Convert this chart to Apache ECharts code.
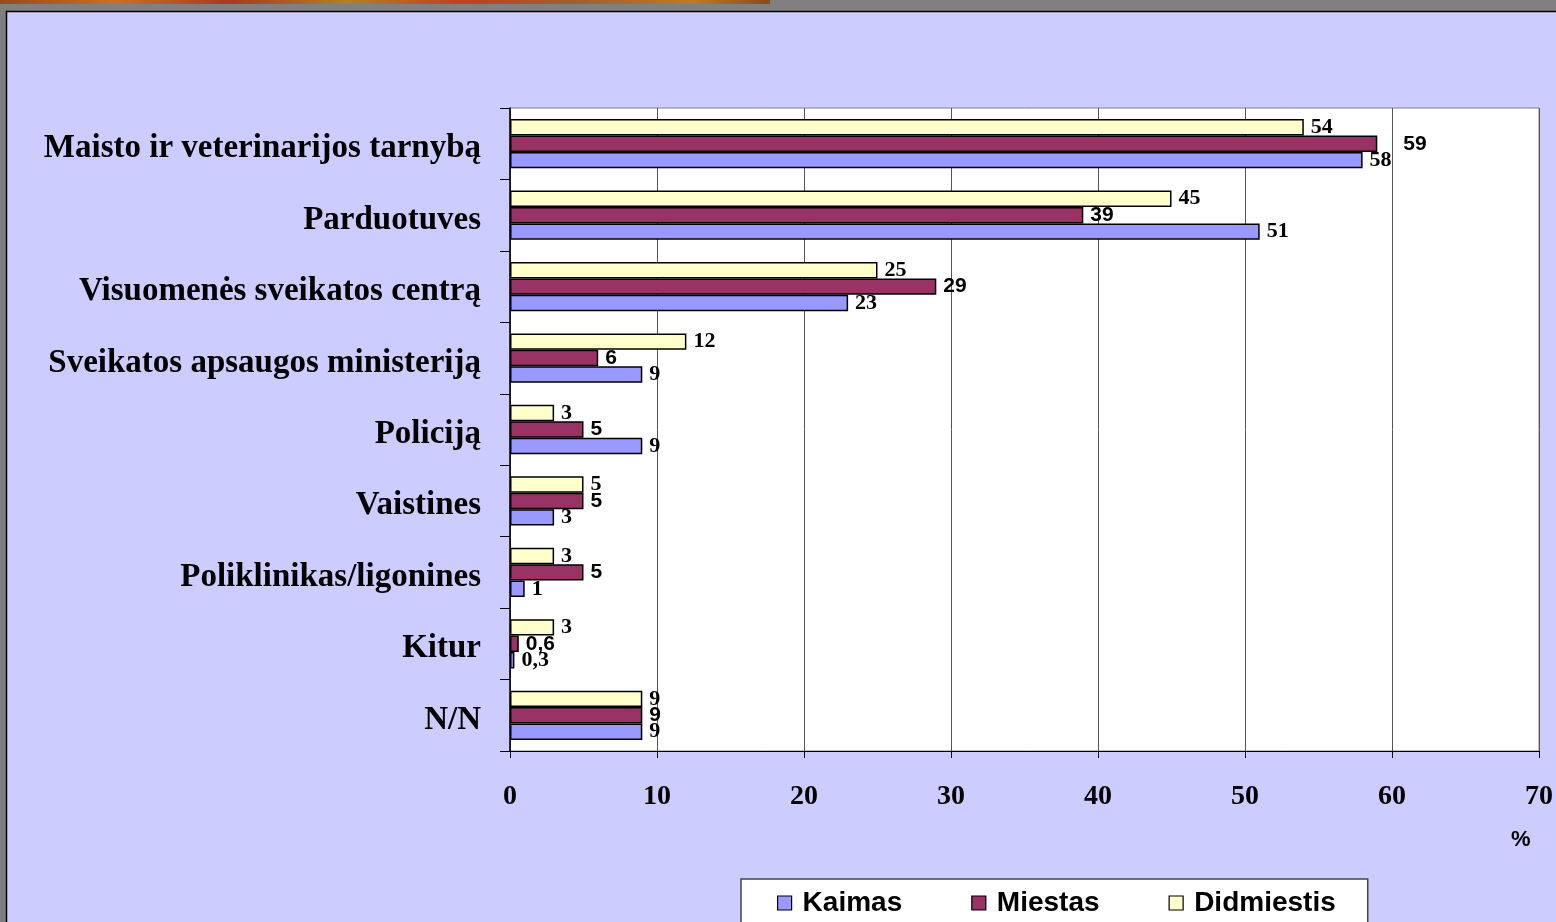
<!DOCTYPE html>
<html><head><meta charset="utf-8">
<script src="https://cdn.jsdelivr.net/npm/echarts@6/dist/echarts.min.js"></script>
<style>html,body{margin:0;padding:0;background:#808080}#c{width:1556px;height:922px}</style>
</head><body><div id="c"></div>
<script>
const categories = ['Maisto ir veterinarijos tarnybą','Parduotuves','Visuomenės sveikatos centrą','Sveikatos apsaugos ministeriją','Policiją','Vaistines','Poliklinikas/ligonines','Kitur','N/N'];
const kaimas = [58, 51, 23, 9, 9, 3, 1, 0.3, 9];
const miestas = [59, 39, 29, 6, 5, 5, 5, 0.6, 9];
const didmiestis = [54, 45, 25, 12, 3, 5, 3, 3, 9];
const seriesNames = ['Kaimas','Miestas','Didmiestis'];
const xTicks = [0, 10, 20, 30, 40, 50, 60, 70];

const fmt = p => String(p.value).replace('.', ',');
const serifLbl = {show:true, position:'right', distance:7, fontFamily:'Liberation Serif', fontWeight:'bold', fontSize:22, color:'#000', formatter:fmt};
const sansLbl = {show:true, position:'right', distance:7, fontFamily:'Liberation Sans', fontWeight:'bold', fontSize:21, color:'#000', formatter:fmt};

const chart = echarts.init(document.getElementById('c'), null, {renderer:'canvas'});
chart.setOption({
  backgroundColor:'#808080',
  animation:false,
  graphic:[
    {type:'rect', z:-10, shape:{x:0,y:0,width:770,height:4}, style:{fill:new echarts.graphic.LinearGradient(0,0,1,0,[
      {offset:0,color:'#9a4a1a'},{offset:0.15,color:'#c8702a'},{offset:0.3,color:'#a83a20'},{offset:0.45,color:'#b0802a'},
      {offset:0.6,color:'#c04020'},{offset:0.75,color:'#a06030'},{offset:0.9,color:'#c07828'},{offset:1,color:'#8a4a20'}])}},
    {type:'rect', z:-10, shape:{x:6.5,y:11.5,width:1560,height:920}, style:{fill:'#CCCCFF', stroke:'#000', lineWidth:1.5}},
    {type:'text', left:1511, top:829, style:{text:'%', font:'bold 22px "Liberation Sans"', fill:'#000'}}
  ],
  grid:{left:510, top:108, right:17, bottom:171, show:true, backgroundColor:'#fff', borderColor:'#808080', borderWidth:1},
  legend:{
    data:seriesNames, left:741, top:879, orient:'horizontal',
    backgroundColor:'#fff', borderColor:'#444', borderWidth:1.5, borderRadius:0,
    padding:[10, 32, 30, 36], itemGap:69, itemWidth:14, itemHeight:14, icon:'rect',
    itemStyle:{borderColor:'#000', borderWidth:1.2},
    textStyle:{fontFamily:'Liberation Sans', fontWeight:'bold', fontSize:28, color:'#000', padding:[0,0,0,6]}
  },
  xAxis:{
    type:'value', min:xTicks[0], max:xTicks[xTicks.length-1], interval:10,
    axisLine:{show:true, lineStyle:{color:'#000', width:1.2}},
    axisTick:{show:true, length:7, lineStyle:{color:'#000'}},
    splitLine:{show:true, lineStyle:{color:'#555', width:1}},
    axisLabel:{margin:32, fontFamily:'Liberation Serif', fontWeight:'bold', fontSize:28, color:'#000'}
  },
  yAxis:{
    type:'category', data:categories, inverse:true,
    axisLine:{show:true, lineStyle:{color:'#000', width:1.5}},
    axisTick:{show:true, length:10, lineStyle:{color:'#000'}},
    axisLabel:{margin:29, color:'#000',
      formatter: v => '{c|' + v + '}',
      rich:{c:{fontFamily:'Liberation Serif', fontWeight:'bold', fontSize:33, color:'#000', padding:[10,0,0,0]}}}
  },
  series:[
    {name:'Didmiestis', type:'bar', data:didmiestis, barGap:'0%', barCategoryGap:'31%',
     itemStyle:{color:'#FFFFCC', borderColor:'#000', borderWidth:1.5}, label:serifLbl},
    {name:'Miestas', type:'bar', data:miestas.map((v,i)=> i===0 ? {value:v, label:{distance:26}} : v), barGap:'0%', barCategoryGap:'31%',
     itemStyle:{color:'#993366', borderColor:'#000', borderWidth:1.5}, label:sansLbl},
    {name:'Kaimas', type:'bar', data:kaimas, barGap:'0%', barCategoryGap:'31%',
     itemStyle:{color:'#9999FF', borderColor:'#000', borderWidth:1.5}, label:serifLbl}
  ]
});
</script></body></html>
